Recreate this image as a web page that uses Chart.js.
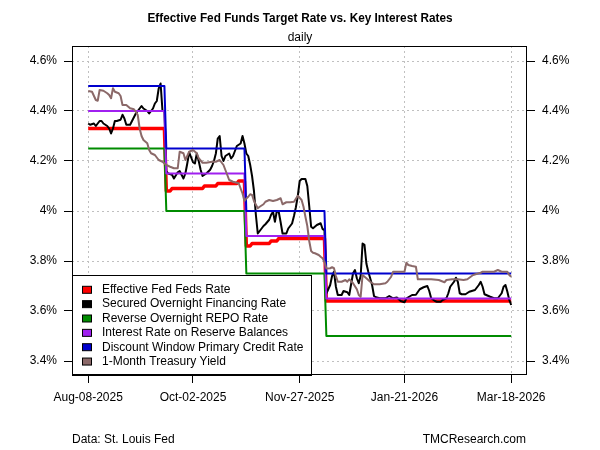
<!DOCTYPE html>
<html><head><meta charset="utf-8">
<script src="https://cdn.jsdelivr.net/npm/chart.js@4.4.1/dist/chart.umd.min.js"></script>
<style>html,body{margin:0;padding:0;background:#fff;}canvas{display:block;}</style>
</head><body>
<canvas id="c" width="600" height="450"></canvas>
<script>
// ---- text ----
const titleText = 'Effective Fed Funds Target Rate vs. Key Interest Rates';
const subtitleText = 'daily';
const sourceText = 'Data: St. Louis Fed';
const creditText = 'TMCResearch.com';

// ---- axes (x = days since Aug-08-2025) ----
const xTickDays = [0, 55, 111, 166, 222];
const xTickLabels = ['Aug-08-2025', 'Oct-02-2025', 'Nov-27-2025', 'Jan-21-2026', 'Mar-18-2026'];
const yTickValues = [3.4, 3.6, 3.8, 4.0, 4.2, 4.4, 4.6];
const yTickLabels = ['3.4%', '3.6%', '3.8%', '4%', '4.2%', '4.4%', '4.6%'];

// ---- series names ----
const seriesNames = ['Effective Fed Feds Rate', 'Secured Overnight Financing Rate', 'Reverse Overnight REPO Rate',
  'Interest Rate on Reserve Balances', 'Discount Window Primary Credit Rate', '1-Month Treasury Yield'];

// ---- Effective Fed Funds Rate ----
const effrDays = [0, 40, 41, 43, 44, 60, 61, 67, 68, 78, 79, 82, 83, 85, 86, 95, 96, 99, 100, 124, 125, 222];
const effrVals = [4.33, 4.33, 4.08, 4.08, 4.09, 4.09, 4.10, 4.10, 4.11, 4.11, 4.12, 4.12, 3.86, 3.86, 3.87, 3.87, 3.88, 3.88, 3.89, 3.89, 3.64, 3.64];

// ---- SOFR ----
const sofrDays = [0,1,3,4,6,7,8,10,11,12,13,14,15,17,18,19,20,22,24,25,26,28,29,31,32,34,35,36,37,38,39,40,
  41,42,44,45,47,48,49,50,51,52,53,54,55,56,57,58,59,60,62,64,65,66,67,68,69,70,71,72,74,75,76,77,78,80,81,82,
  83,84,85,86,87,88,89,90,92,93,95,96,97,98,99,100,101,102,104,105,107,108,109,110,111,112,114,115,116,117,118,120,122,123,124,
  125,127,128,129,130,131,133,134,136,137,139,140,141,142,143,144,145,146,147,148,149,150,151,153,156,158,160,162,164,166,167,168,
  170,172,174,176,178,179,180,182,183,185,186,188,189,190,192,193,194,195,196,198,200,203,205,206,207,208,211,213,215,217,218,219,220,221,222];
const sofrVals = [4.35,4.345,4.35,4.34,4.36,4.36,4.35,4.34,4.33,4.31,4.33,4.36,4.36,4.365,4.385,4.37,4.345,4.345,4.375,4.39,4.40,4.42,4.41,4.40,4.39,4.41,4.43,4.44,4.49,4.51,4.40,4.40,
  4.16,4.15,4.145,4.13,4.155,4.16,4.145,4.13,4.15,4.19,4.235,4.215,4.195,4.19,4.23,4.20,4.165,4.14,4.15,4.165,4.18,4.20,4.23,4.29,4.30,4.22,4.20,4.22,4.23,4.21,4.22,4.24,4.26,4.27,4.30,4.27,
  4.23,4.22,4.185,4.14,4.08,3.985,3.91,3.92,3.94,3.947,3.965,3.985,3.997,3.957,4.00,3.997,3.955,3.91,3.91,3.93,3.95,3.98,4.015,4.06,4.12,4.128,4.128,4.10,4.02,3.937,3.931,3.944,3.951,3.928,3.924,
  3.67,3.704,3.74,3.757,3.697,3.664,3.664,3.68,3.675,3.664,3.751,3.764,3.731,3.711,3.74,3.87,3.865,3.79,3.757,3.731,3.704,3.66,3.655,3.651,3.651,3.66,3.651,3.654,3.64,3.635,3.65,3.655,
  3.664,3.665,3.687,3.695,3.70,3.68,3.651,3.64,3.637,3.637,3.644,3.651,3.671,3.697,3.717,3.733,3.717,3.671,3.667,3.667,3.677,3.684,3.704,3.717,3.697,3.667,3.657,3.651,3.651,3.671,3.697,3.704,3.677,3.644,3.624];

// ---- Overnight Reverse Repo ----
const rrpDays = [0, 40, 41, 82, 83, 124, 125, 222];
const rrpVals = [4.25, 4.25, 4.00, 4.00, 3.75, 3.75, 3.50, 3.50];

// ---- Interest on Reserve Balances ----
const iorbDays = [0, 40, 41, 82, 83, 124, 125, 222];
const iorbVals = [4.40, 4.40, 4.15, 4.15, 3.90, 3.90, 3.65, 3.65];

// ---- Discount Window Primary Credit ----
const dwDays = [0, 40, 41, 82, 83, 124, 125, 222];
const dwVals = [4.50, 4.50, 4.25, 4.25, 4.00, 4.00, 3.75, 3.75];

// ---- 1-Month Treasury ----
const tbDays = [0,2,4,5,6,8,10,11,12,13,14,16,17,18,20,22,24,25,26,27,28,29,31,32,33,35,37,39,41,43,45,47,48,50,51,53,55,57,58,60,62,65,67,69,71,73,74,76,79,80,81,82,
  83,84,85,86,87,89,90,92,93,95,97,99,101,102,104,106,108,110,112,113,114,115,116,117,118,119,121,122,123,124,
  125,127,128,129,130,131,133,135,136,137,139,141,142,143,144,146,148,150,153,156,157,159,160,163,166,167,168,170,172,173,177,180,184,186,187,188,191,194,197,199,202,206,207,213,215,217,220,221,222];
const tbVals = [4.48,4.477,4.444,4.441,4.484,4.481,4.471,4.464,4.451,4.491,4.477,4.471,4.46,4.424,4.424,4.411,4.407,4.397,4.384,4.33,4.30,4.284,4.271,4.244,4.231,4.224,4.204,4.197,4.184,4.177,4.171,4.171,4.237,4.231,4.204,4.237,4.244,4.231,4.211,4.193,4.193,4.197,4.197,4.204,4.184,4.144,4.124,4.117,4.111,4.09,4.07,4.04,
  4.05,4.057,4.067,4.064,4.04,4.011,4.017,4.027,4.037,4.044,4.04,4.044,4.051,4.027,4.035,4.035,4.037,4.061,4.044,4.017,3.977,3.94,3.88,3.84,3.833,3.831,3.824,3.817,3.811,3.797,
  3.77,3.771,3.775,3.771,3.74,3.717,3.717,3.724,3.717,3.727,3.711,3.687,3.664,3.657,3.744,3.731,3.717,3.707,3.707,3.711,3.717,3.737,3.757,3.757,3.757,3.793,3.784,3.78,3.777,3.727,3.727,3.727,3.724,3.718,3.715,3.724,3.727,3.727,3.724,3.727,3.744,3.753,3.757,3.757,3.764,3.757,3.757,3.744,3.737];

// ---- build ----
function pts(days, vals) { return days.map((d, i) => ({ x: d, y: vals[i] })); }
const seriesData = [pts(effrDays, effrVals), pts(sofrDays, sofrVals), pts(rrpDays, rrpVals),
  pts(iorbDays, iorbVals), pts(dwDays, dwVals), pts(tbDays, tbVals)];
const seriesColors = ['#ff0000', '#000000', '#008b00', '#a020f0', '#0000cd', '#8b6969'];
const seriesWidths = [3.5, 2, 2, 2, 2, 2];

const FONT = '"Liberation Sans", Arial, sans-serif';
Chart.defaults.font.family = FONT;
Chart.defaults.font.size = 12;
Chart.defaults.color = '#000';

const decor = {
  id: 'decor',
  afterDatasetsDraw(chart) {
    const ctx = chart.ctx, a = chart.chartArea;
    ctx.save();
    // legend
    const lx = a.left, ly = 275, lw = 239, lh = a.bottom - ly;
    ctx.fillStyle = '#fff';
    ctx.fillRect(lx, ly, lw, lh);
    ctx.strokeStyle = '#000'; ctx.lineWidth = 1;
    ctx.strokeRect(lx + 0.5, ly + 0.5, lw, lh);
    ctx.font = '12px ' + FONT;
    ctx.textBaseline = 'middle'; ctx.textAlign = 'left';
    seriesNames.forEach((n, i) => {
      const cy = 289.8 + i * 14.35;
      ctx.fillStyle = seriesColors[i];
      ctx.fillRect(lx + 10.5, cy - 3.5, 9, 7);
      ctx.strokeStyle = '#000';
      ctx.strokeRect(lx + 10.5, cy - 3.5, 9, 7);
      ctx.fillStyle = '#000';
      ctx.fillText(n, lx + 30, cy);
    });
    // frame
    ctx.strokeStyle = '#000'; ctx.lineWidth = 1;
    ctx.strokeRect(a.left + 0.5, a.top + 0.5, a.right - a.left - 1, a.bottom - a.top - 1);
    ctx.restore();
  },
  afterDraw(chart) {
    const ctx = chart.ctx, a = chart.chartArea;
    ctx.save();
    ctx.fillStyle = '#000';
    ctx.textBaseline = 'middle'; ctx.textAlign = 'center';
    ctx.font = 'bold 13px "Liberation Sans Narrow", ' + FONT;
    const w = ctx.measureText(titleText).width;
    const target = 305;
    const sx = (w > target * 1.04 || w < target * 0.96) ? target / w : 1;
    ctx.translate(300, 18.5); ctx.scale(sx, 1);
    ctx.fillText(titleText, 0, 0);
    ctx.restore();
    ctx.save();
    ctx.fillStyle = '#000';
    ctx.textBaseline = 'middle';
    ctx.font = '12px ' + FONT;
    ctx.textAlign = 'center';
    ctx.fillText(subtitleText, 300, 38);
    ctx.textAlign = 'left';
    ctx.fillText(sourceText, a.left, 440);
    ctx.textAlign = 'right';
    ctx.fillText(creditText, a.right - 1, 440);
    ctx.restore();
  }
};

const gridCommon = { color: '#c0c0c0', lineWidth: 1, tickLength: 8, tickColor: '#000', tickBorderDash: [] };

new Chart(document.getElementById('c'), {
  type: 'line',
  data: {
    datasets: seriesNames.map((n, i) => ({
      label: n, data: seriesData[i], borderColor: seriesColors[i], backgroundColor: seriesColors[i],
      borderWidth: seriesWidths[i], pointRadius: 0, tension: 0, fill: false,
      borderJoinStyle: 'round', order: seriesNames.length - i
    }))
  },
  options: {
    responsive: false, animation: false, events: [],
    layout: { padding: { top: 46, left: 0, right: 0, bottom: 0 } },
    plugins: { legend: { display: false }, title: { display: false }, tooltip: { enabled: false } },
    scales: {
      x: {
        type: 'linear', position: 'bottom', min: -8.5, max: 230.3,
        afterBuildTicks: s => { s.ticks = xTickDays.map(v => ({ value: v })); },
        afterFit: s => { s.height = 75; },
        ticks: { autoSkip: false, maxRotation: 0, padding: 7, callback: (v, i) => xTickLabels[i] },
        grid: gridCommon,
        border: { display: false, dash: [2, 3] }
      },
      y: {
        type: 'linear', position: 'left', min: 3.344, max: 4.66,
        afterBuildTicks: s => { s.ticks = yTickValues.map(v => ({ value: v })); },
        afterFit: s => { s.width = 72; },
        ticks: { padding: 7, callback: (v, i) => yTickLabels[i] },
        grid: gridCommon,
        border: { display: false, dash: [2, 3] }
      },
      y2: {
        type: 'linear', position: 'right', min: 3.344, max: 4.66,
        afterBuildTicks: s => { s.ticks = yTickValues.map(v => ({ value: v })); },
        afterFit: s => { s.width = 73; },
        ticks: { padding: 7, callback: (v, i) => yTickLabels[i] },
        grid: Object.assign({}, gridCommon, { drawOnChartArea: false }),
        border: { display: false }
      }
    }
  },
  plugins: [decor]
});
</script>
</body></html>
